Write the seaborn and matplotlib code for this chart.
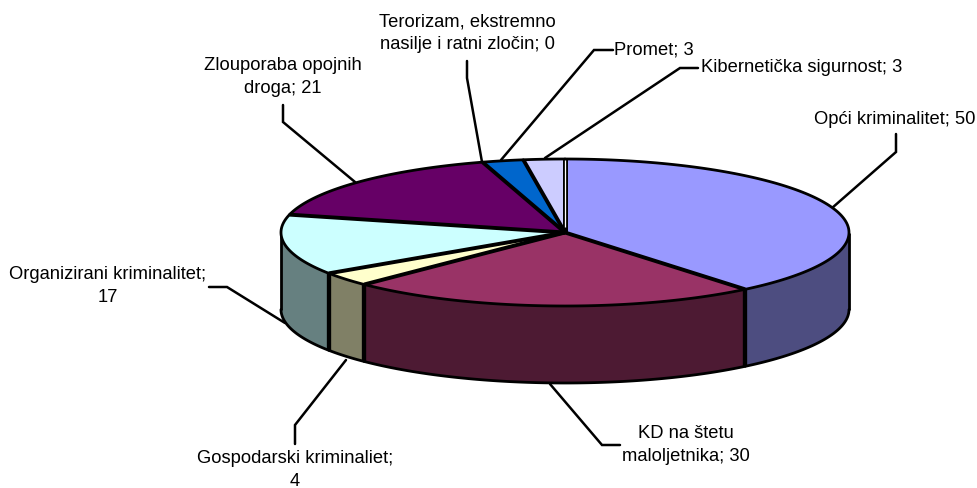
import numpy as np
import pandas as pd
import seaborn as sns
import matplotlib
matplotlib.use('Agg')
import matplotlib.pyplot as plt
from matplotlib.patches import Polygon

# clockwise from 12 o'clock
labels = ["Opći kriminalitet; 50", "KD na štetu\nmaloljetnika; 30", "Gospodarski kriminaliet;\n4",
          "Organizirani kriminalitet;\n17", "Zlouporaba opojnih\ndroga; 21",
          "Terorizam, ekstremno\nnasilje i ratni zločin; 0", "Promet; 3", "Kibernetička sigurnost; 3"]
values = [50, 30, 4, 17, 21, 0, 3, 3]
colors = ["#9999FF", "#993366", "#FFFFCC", "#CCFFFF", "#660066", "#FF8080", "#0066CC", "#CCCCFF"]

# label anchor x, y, alignment, then leader line points (in pixels)
label_x = [975, 686, 295, 108, 283, 467, 614, 701]
label_y = [120, 445, 470, 286, 77, 33, 50, 68]
label_ha = ["right", "center", "center", "center", "center", "center", "left", "left"]
leaders = [[(832, 208), (896, 152), (896, 134)],
           [(550, 384), (602, 445), (620, 445)],
           [(346, 360), (295, 425), (295, 444)],
           [(285, 323), (227, 287), (209, 287)],
           [(355, 182), (283, 122), (283, 105)],
           [(482, 162), (467, 78), (467, 61)],
           [(501, 160), (594, 50), (613, 50)],
           [(545, 158), (680, 68), (698, 68)]]

cx, cy, rx, ry, depth = 565, 232.5, 284, 73.5, 77

sns.set_theme(style="white")
plt.rcParams['font.family'] = ['Liberation Sans', 'DejaVu Sans']

df = pd.DataFrame({"label": labels, "value": values, "color": colors})
df["stop"] = df["value"].cumsum() / df["value"].sum() * 360
df["start"] = df["stop"] - df["value"] / df["value"].sum() * 360
palette = sns.color_palette(colors)


def rim(a0, a1, dy=0):
    t = np.radians(np.linspace(a0, a1, 120))
    return np.column_stack([cx + rx * np.sin(t), cy + dy - ry * np.cos(t)])


fig = plt.figure(figsize=(9.78, 4.88), dpi=100)
ax = fig.add_axes([0, 0, 1, 1])
ax.set_xlim(0, 978)
ax.set_ylim(488, 0)
ax.axis("off")

# walls first, only the part that faces the viewer
for i, row in df.iterrows():
    a0, a1 = max(row["start"], 90), min(row["stop"], 270)
    if a1 <= a0:
        continue
    dark = tuple(c * 0.5 for c in palette[i])
    wall = np.vstack([rim(a0, a1), rim(a0, a1, depth)[::-1]])
    ax.add_patch(Polygon(wall, closed=True, facecolor=dark, edgecolor="none", zorder=2))
    ax.plot(*rim(a0, a1, depth).T, color="black", lw=2, zorder=3)
    for a in (a0, a1):
        lw = 3 if 90 < a < 270 else 2
        p = rim(a, a)[0]
        ax.plot([p[0], p[0]], [p[1], p[1] + depth], color="black", lw=lw, zorder=3, solid_capstyle="butt")

# top face
for i, row in df.iterrows():
    if row["value"] == 0:
        continue
    pts = np.vstack([[cx, cy], rim(row["start"], row["stop"])])
    ax.add_patch(Polygon(pts, closed=True, facecolor=palette[i], edgecolor="none", zorder=4))
for i, row in df.iterrows():
    if row["value"] == 0:
        continue
    ax.plot(*rim(row["start"], row["stop"]).T, color="black", lw=2, zorder=5)
    p = rim(row["start"], row["start"])[0]
    lw = 3.6 if i == 0 else 2.8
    ax.plot([cx, p[0]], [cy, p[1]], color="black", lw=lw, zorder=5, solid_capstyle="butt")

# small gap where the first and last slice meet
ax.plot([cx, cx], [cy - ry + 1, cy - 6], color="white", lw=0.9, zorder=6, solid_capstyle="butt")

for i, row in df.iterrows():
    xs, ys = zip(*leaders[i])
    ax.plot(xs, ys, color="black", lw=1.8, zorder=1, solid_joinstyle="miter")
    ax.text(label_x[i], label_y[i], row["label"], ha=label_ha[i], va="center", ma="center",
            fontsize=13.2, color="black", linespacing=1.42, clip_on=False)

fig.savefig("out.png", dpi=100, facecolor="white")
